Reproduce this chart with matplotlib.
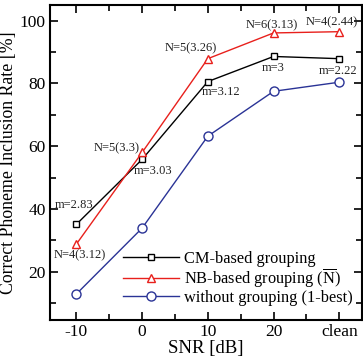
import matplotlib
matplotlib.use("Agg")
import matplotlib.pyplot as plt
from matplotlib.ticker import MultipleLocator

plt.rcParams['font.family'] = ['Liberation Serif', 'DejaVu Serif']
plt.rcParams['mathtext.fontset'] = 'custom'
plt.rcParams['mathtext.rm'] = 'Liberation Serif'

# data
snr_labels = ['-10', '0', '10', '20', 'clean']
cm_rate = [35.1, 55.8, 80.6, 88.6, 87.9]
nb_rate = [28.8, 58.0, 87.9, 96.1, 96.5]
base_rate = [12.9, 33.9, 63.2, 77.5, 80.4]

cm_notes = ['m=2.83', 'm=3.03', 'm=3.12', 'm=3', 'm=2.22']
nb_notes = ['N=4(3.12)', 'N=5(3.3)', 'N=5(3.26)', 'N=6(3.13)', 'N=4(2.44)']
# annotation anchor (x, y) in data coords
cm_note_pos = [(-0.03, 41.3), (1.17, 52.1), (2.2, 77.3), (2.99, 84.9), (3.98, 84.0)]
nb_note_pos = [(0.05, 25.4), (0.61, 59.4), (1.74, 91.3), (2.97, 98.6), (3.88, 99.6)]

xs = list(range(len(snr_labels)))

fig = plt.figure(figsize=(3.63, 3.58), dpi=100)
ax = fig.add_axes([0.138, 0.106, 0.86, 0.88])

red = '#e8201c'
blue = '#2a3396'
ax.plot(xs, cm_rate, '-s', color='black', lw=1.0, ms=5, mfc='white', mew=1.0,
        label='CM-based grouping')
ax.plot(xs, nb_rate, '-^', color=red, lw=1.0, ms=6, mfc='white', mew=1.0,
        label=r'NB-based grouping ($\overline{\mathrm{N}}$)')
ax.plot(xs, base_rate, '-o', color=blue, lw=1.0, ms=6.5, mfc='white', mew=1.0,
        label='without grouping (1-best)')

for txt, (px, py) in zip(cm_notes, cm_note_pos):
    ax.text(px, py, txt, fontsize=9, ha='center', va='center', color='#222222')
for txt, (px, py) in zip(nb_notes, nb_note_pos):
    ax.text(px, py, txt, fontsize=9, ha='center', va='center', color='#222222')

ax.set_xlim(-0.4, 4.35)
ax.set_ylim(4.6, 105)
ax.set_xticks(xs)
ax.set_xticklabels(snr_labels)
ax.xaxis.set_minor_locator(MultipleLocator(0.5))
ax.yaxis.set_minor_locator(MultipleLocator(10))
ax.set_yticks([20, 40, 60, 80, 100])
ax.tick_params(which='both', direction='in', top=True, right=True, width=1.2)
ax.tick_params(which='major', length=6, labelsize=12.5, pad=3)
ax.tick_params(which='minor', length=4)
for sp in ax.spines.values():
    sp.set_linewidth(1.5)

ax.set_xlabel('SNR [dB]', fontsize=13.5, labelpad=0)
ax.set_ylabel('Correct Phoneme Inclusion Rate [%]', fontsize=12.8, labelpad=2)

ax.legend(loc='lower right', frameon=False, fontsize=11.8, handlelength=3.4,
          handletextpad=0.3, labelspacing=0.0, borderaxespad=0.0,
          bbox_to_anchor=(0.99, 0.025))

fig.savefig('out.png', dpi=100)
